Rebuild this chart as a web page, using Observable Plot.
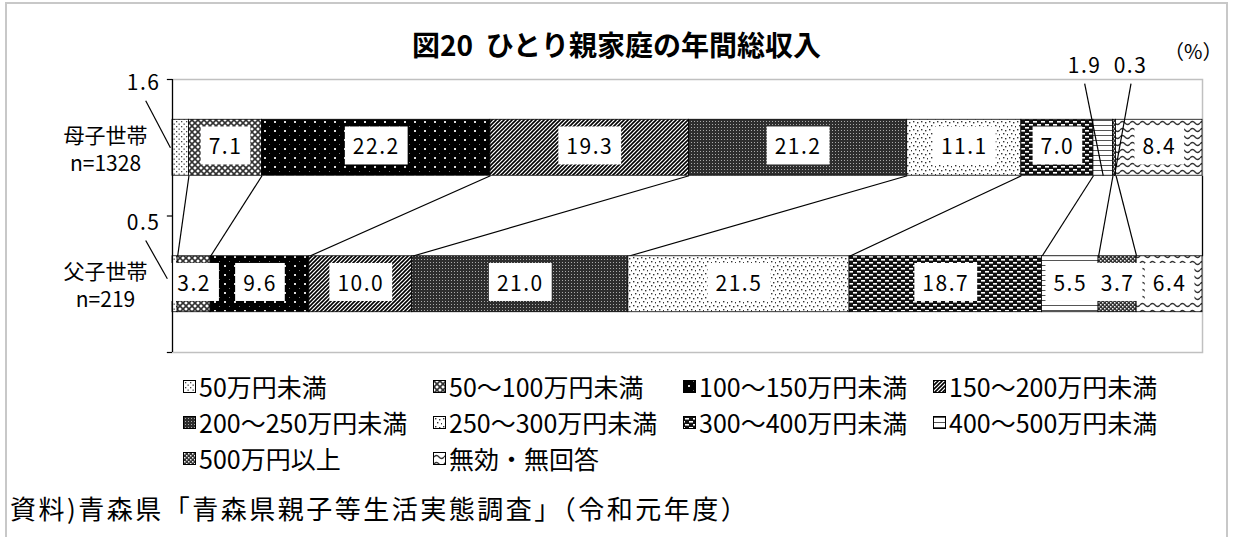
<!DOCTYPE html>
<html lang="ja"><head><meta charset="utf-8">
<script src="https://cdn.jsdelivr.net/npm/d3@7"></script>
<script src="https://cdn.jsdelivr.net/npm/@observablehq/plot@0.6"></script>
<style>
html,body{margin:0;padding:0;background:#fff;}
body{font-family:"Noto Sans CJK JP","Noto Sans",sans-serif;color:#000;}
#wrap{position:relative;width:1233px;height:537px;overflow:hidden;}
#border{position:absolute;left:5px;top:2px;width:1223px;height:600px;border:2px solid #c8c8c8;box-sizing:border-box;}
#chart{position:absolute;left:0;top:0;}
#title{position:absolute;left:0;width:1233px;top:26px;text-align:center;font-size:28px;font-weight:bold;line-height:36px;}
#pct{position:absolute;left:1164px;top:38px;width:60px;font-size:20px;line-height:26px;white-space:nowrap;}
#legend{position:absolute;left:183px;top:368px;display:grid;grid-template-columns:250px 250px 250px 250px;font-size:25px;line-height:36px;}
.item{display:flex;align-items:center;white-space:nowrap;}
.sw{width:11px;height:11px;border:1px solid #000;margin-right:3px;flex:none;}
#caption{position:absolute;left:10px;top:490px;font-size:26px;line-height:36px;white-space:nowrap;letter-spacing:2.5px;}
</style></head>
<body>
<svg width="0" height="0" style="position:absolute">
<defs>
<pattern id="p0" width="5" height="5" patternUnits="userSpaceOnUse"><rect width="5" height="5" fill="#fff"/><rect x="1" y="1" width="1.3" height="1.3" fill="#444"/><rect x="3.5" y="3.5" width="1.3" height="1.3" fill="#444"/></pattern>
<pattern id="p1" width="6" height="6" patternUnits="userSpaceOnUse"><rect width="6" height="6" fill="#fff"/><path d="M0,0L6,6M6,0L0,6" stroke="#333" stroke-width="1.6"/></pattern>
<pattern id="p2" width="10" height="9" patternUnits="userSpaceOnUse"><rect width="10" height="9" fill="#000"/><rect x="4" y="4" width="2" height="2" fill="#ddd"/><rect x="9" y="0" width="1" height="1" fill="#777"/></pattern>
<pattern id="p3" width="4" height="4" patternUnits="userSpaceOnUse"><rect width="4" height="4" fill="#fff"/><path d="M-1,1L1,-1M0,4L4,0M3,5L5,3" stroke="#000" stroke-width="1.6"/></pattern>
<pattern id="p4" width="3" height="3" patternUnits="userSpaceOnUse"><rect width="3" height="3" fill="#2e2e2e"/><rect x="1" y="1" width="1" height="1" fill="#aaa"/></pattern>
<pattern id="p5" width="8" height="8" patternUnits="userSpaceOnUse"><rect width="8" height="8" fill="#fff"/><rect x="1" y="1" width="1.4" height="1.4" fill="#333"/><rect x="5" y="2" width="1.4" height="1.4" fill="#333"/><rect x="3" y="5" width="1.4" height="1.4" fill="#333"/><rect x="7" y="6" width="1.4" height="1.4" fill="#333"/></pattern>
<pattern id="p6" width="8" height="6" patternUnits="userSpaceOnUse"><rect width="8" height="6" fill="#111"/><rect x="1" y="1" width="4" height="1.6" fill="#fff"/><rect x="5" y="4" width="4" height="1.6" fill="#fff"/><rect x="-3" y="4" width="4" height="1.6" fill="#fff"/></pattern>
<pattern id="p7" width="5" height="5" patternUnits="userSpaceOnUse"><rect width="5" height="5" fill="#fff"/><rect y="0" width="5" height="1" fill="#555"/></pattern>
<pattern id="p8" width="4" height="4" patternUnits="userSpaceOnUse"><rect width="4" height="4" fill="#333"/><rect x="0" y="0" width="1.5" height="1.5" fill="#eee"/><rect x="2" y="2" width="1.5" height="1.5" fill="#eee"/></pattern>
<pattern id="p9" width="10" height="7" patternUnits="userSpaceOnUse"><rect width="10" height="7" fill="#fff"/><path d="M0,4Q2.5,1 5,4T10,4" stroke="#333" stroke-width="1.3" fill="none"/></pattern>
</defs>
</svg>
<div id="wrap">
  <div id="border"></div>
  <div id="chart"></div>
  <div id="title">図20&nbsp; ひとり親家庭の年間総収入</div>
  <div id="pct">（%）</div>
  <div id="legend"></div>
  <div id="caption">資料)青森県「青森県親子等生活実態調査」（令和元年度）</div>
</div>
<script>
// ---- data ----
const categories = ["50万円未満","50～100万円未満","100～150万円未満","150～200万円未満","200～250万円未満","250～300万円未満","300～400万円未満","400～500万円未満","500万円以上","無効・無回答"];
const groups = ["母子世帯","父子世帯"];
const groupSizes = ["n=1328","n=219"];
const motherValues = [1.6, 7.1, 22.2, 19.3, 21.2, 11.1, 7.0, 1.9, 0.3, 8.4];
const fatherValues = [0.5, 3.2, 9.6, 10.0, 21.0, 21.5, 18.7, 5.5, 3.7, 6.4];
const seriesValues = [motherValues, fatherValues];

// ---- layout helpers ----
const BAR_FRAC = 0.41;
const barTop = g => g + (1 - BAR_FRAC) / 2;
const barBottom = g => g + (1 + BAR_FRAC) / 2;

const segments = [];
seriesValues.forEach((vals, g) => {
  const total = d3.sum(vals);
  let acc = 0;
  vals.forEach((v, i) => {
    const x1 = acc / total * 100; acc += v; const x2 = acc / total * 100;
    segments.push({g, i, v, x1, x2, xc: (x1 + x2) / 2, y1: barTop(g), y2: barBottom(g), yc: g + 0.5});
  });
});
const seg = (g, i) => segments.find(s => s.g === g && s.i === i);
const inside = segments.filter(d => d.v >= 2.5);

const connectors = categories.map((c, i) => {
  const m = seg(0, i), f = seg(1, i);
  return {x1: m.x2, y1: m.y2, x2: f.x2, y2: f.y1};
});

// outside label placement (offsets relative to anchor x and bar top)
const outsidePlacement = [
  {g: 0, i: 0, at: "x1", tx: -2.8, ty: -0.265, lx1: -2.6, ly1: -0.14, lx2: -0.2, ly2: 0.205},
  {g: 1, i: 0, at: "x1", tx: -2.8, ty: -0.245, lx1: -2.6, ly1: -0.115, lx2: -0.5, ly2: 0.165},
  {g: 0, i: 7, at: "xc", tx: -1.8, ty: -0.395, lx1: -1.8, ly1: -0.265, lx2: 0, ly2: 0.41},
  {g: 0, i: 8, at: "xc", tx: 1.55, ty: -0.395, lx1: 1.6, ly1: -0.265, lx2: 0, ly2: 0.41}
];
const outside = outsidePlacement.map(p => {
  const s = seg(p.g, p.i); const ax = s[p.at]; const ay = s.y1;
  return {v: s.v, tx: ax + p.tx, ty: ay + p.ty, lx1: ax + p.lx1, ly1: ay + p.ly1, lx2: ax + p.lx2, ly2: ay + p.ly2};
});

const groupLabels = groups.map((g, k) => ({label: g + "\n" + groupSizes[k], y: k + 0.5}));
const fmt = d3.format(".1f");
const numFont = "'Noto Sans CJK JP', sans-serif";

const chart = Plot.plot({
  width: 1233, height: 537,
  marginLeft: 172, marginRight: 31, marginTop: 79, marginBottom: 185,
  x: {domain: [0, 100], axis: null},
  y: {domain: [0, 2], reverse: true, axis: null},
  color: {type: "identity"},
  style: {background: "transparent", fontFamily: numFont, color: "#000"},
  marks: [
    Plot.frame({stroke: "#c0c0c0", strokeWidth: 1.5}),
    Plot.link(connectors, {x1: "x1", y1: "y1", x2: "x2", y2: "y2", stroke: "#000", strokeWidth: 1.2}),
    Plot.rect(segments, {x1: "x1", x2: "x2", y1: "y1", y2: "y2", fill: d => `url(#p${d.i})`, stroke: "#000", strokeWidth: 0.8}),
    Plot.text(inside, {x: "xc", y: "yc", text: d => fmt(d.v), fontSize: 21, fill: "#000", fontFamily: numFont}),
    Plot.ruleX([0], {y1: 0, y2: 2, stroke: "#000", strokeWidth: 1.2}),
    Plot.ruleY([0, 1, 2], {x1: -0.5, x2: 0, stroke: "#000", strokeWidth: 1.2}),
    Plot.link(outside, {x1: "lx1", y1: "ly1", x2: "lx2", y2: "ly2", stroke: "#000", strokeWidth: 1.2}),
    Plot.text(outside, {x: "tx", y: "ty", text: d => fmt(d.v), fontSize: 21, fill: "#000", fontFamily: numFont}),
    Plot.text(groupLabels, {x: 0, y: "y", text: "label", dx: -67, fontSize: 21, lineHeight: 1.33, fill: "#000"})
  ]
});
document.getElementById("chart").append(chart);

// white boxes behind inside labels
const textGroups = chart.querySelectorAll('g[aria-label="text"]');
if (textGroups.length) {
  textGroups[0].querySelectorAll("text").forEach(t => {
    t.setAttribute("letter-spacing", "1.5");
    const b = t.getBBox();
    const r = document.createElementNS("http://www.w3.org/2000/svg", "rect");
    r.setAttribute("x", b.x - 8);
    r.setAttribute("width", b.width + 16);
    r.setAttribute("y", b.y + b.height / 2 - 19);
    r.setAttribute("height", 38);
    r.setAttribute("fill", "#fff");
    r.setAttribute("stroke", "none");
    const tr = t.getAttribute("transform"); if (tr) r.setAttribute("transform", tr);
    t.parentNode.insertBefore(r, t);
  });
}
if (textGroups.length > 1) {
  textGroups[1].querySelectorAll("text").forEach(t => t.setAttribute("letter-spacing", "1.5"));
}

// legend
const legend = d3.select("#legend");
categories.forEach((c, i) => {
  const it = legend.append("div").attr("class", "item");
  it.append("svg").attr("class", "sw").attr("width", 11).attr("height", 11)
    .append("rect").attr("width", 11).attr("height", 11).attr("fill", `url(#p${i})`);
  it.append("span").text(c);
});
</script>
</body></html>
